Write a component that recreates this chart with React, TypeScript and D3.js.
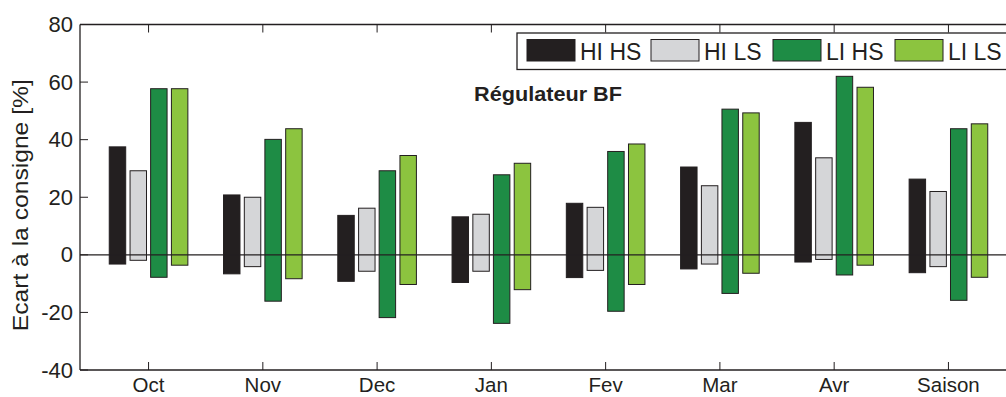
import React from "react";
import * as d3 from "d3";

const months = ["Oct", "Nov", "Dec", "Jan", "Fev", "Mar", "Avr", "Saison"];
const seriesNames = ["HI HS", "HI LS", "LI HS", "LI LS"];
const seriesColors = ["#231f20", "#d5d6d8", "#1e8c45", "#8cc43f"];
// upper and lower limit of each bar, per series, per month
const hiHsMax = [37.5, 20.8, 13.7, 13.2, 17.9, 30.5, 46.0, 26.3];
const hiHsMin = [-3.2, -6.6, -9.2, -9.6, -7.9, -4.9, -2.5, -6.2];
const hiLsMax = [29.2, 20.0, 16.2, 14.1, 16.5, 24.0, 33.7, 22.0];
const hiLsMin = [-1.9, -4.1, -5.7, -5.7, -5.4, -3.2, -1.6, -4.1];
const liHsMax = [57.7, 40.1, 29.2, 27.8, 35.9, 50.6, 62.0, 43.8];
const liHsMin = [-7.8, -16.1, -21.8, -23.8, -19.6, -13.4, -7.0, -15.8];
const liLsMax = [57.7, 43.8, 34.5, 31.8, 38.5, 49.3, 58.2, 45.5];
const liLsMin = [-3.6, -8.3, -10.3, -12.1, -10.3, -6.4, -3.6, -7.8];
const yTicks = [-40, -20, 0, 20, 40, 60, 80];

const width = 1006;
const height = 397;
const marginLeft = 80;
const marginTop = 24.5;
const plotBottom = 370;
const plotRight = 1017;

const App = () => {
  const maxes = [hiHsMax, hiLsMax, liHsMax, liLsMax];
  const mins = [hiHsMin, hiLsMin, liHsMin, liLsMin];

  const x = d3.scaleLinear().domain([0.4, 8.6]).range([marginLeft, plotRight]);
  const y = d3.scaleLinear().domain([-40, 80]).range([plotBottom, marginTop]);
  const unit = x(1) - x(0);
  const barW = 0.144 * unit;
  const offsets = [-0.272, -0.09, 0.09, 0.272];

  const font = "'Liberation Sans', Arial, Helvetica, sans-serif";

  // legend layout
  const legX = 517;
  const legY = 33;
  const legItemX = [527, 651, 773, 895];

  return (
    <svg
      width={width}
      height={height}
      style={{ position: "absolute", left: 0, top: 0, background: "#fff" }}
      fontFamily={font}
    >
      {/* axis box */}
      <line x1={marginLeft} x2={plotRight} y1={marginTop} y2={marginTop} stroke="#231f20" strokeWidth={1.3} />
      <line x1={marginLeft} x2={plotRight} y1={plotBottom} y2={plotBottom} stroke="#231f20" strokeWidth={1.3} />
      <line x1={marginLeft} x2={marginLeft} y1={marginTop} y2={plotBottom} stroke="#231f20" strokeWidth={1.3} />

      {/* y ticks */}
      {yTicks.map((t) => (
        <g key={t}>
          <line x1={marginLeft} x2={marginLeft + 8} y1={y(t)} y2={y(t)} stroke="#231f20" />
          <text x={marginLeft - 7} y={y(t) + 7.5} textAnchor="end" fontSize={22} fill="#231f20">
            {t}
          </text>
        </g>
      ))}

      {/* x ticks */}
      {months.map((m, i) => (
        <g key={m}>
          <line x1={x(i + 1)} x2={x(i + 1)} y1={plotBottom} y2={plotBottom - 8} stroke="#231f20" />
          <line x1={x(i + 1)} x2={x(i + 1)} y1={marginTop} y2={marginTop + 8} stroke="#231f20" />
          <text x={x(i + 1)} y={392} textAnchor="middle" fontSize={20.5} fill="#231f20">
            {m}
          </text>
        </g>
      ))}

      {/* bars */}
      {maxes.map((ser, s) =>
        ser.map((v, i) => (
          <rect
            key={`${s}-${i}`}
            x={x(i + 1 + offsets[s]) - barW / 2}
            y={y(v)}
            width={barW}
            height={y(mins[s][i]) - y(v)}
            fill={seriesColors[s]}
            stroke="#231f20"
            strokeWidth={1}
          />
        ))
      )}

      {/* zero line */}
      <line x1={marginLeft} x2={plotRight} y1={y(0)} y2={y(0)} stroke="#231f20" strokeWidth={1.2} />

      {/* title */}
      <text
        x={548}
        y={101}
        textAnchor="middle"
        fontSize={20}
        fontWeight="bold"
        fill="#231f20"
        textLength={148}
        lengthAdjust="spacingAndGlyphs"
      >
        Régulateur BF
      </text>

      {/* legend */}
      <rect x={legX} y={legY} width={500} height={36.5} fill="#fff" stroke="#231f20" strokeWidth={1.3} />
      {seriesNames.map((n, s) => (
        <g key={n}>
          <rect
            x={legItemX[s]}
            y={39.5}
            width={48}
            height={21.5}
            fill={seriesColors[s]}
            stroke="#231f20"
            strokeWidth={1}
          />
          <text x={legItemX[s] + 53} y={59.5} fontSize={23} fill="#231f20">
            {n}
          </text>
        </g>
      ))}

      {/* y label */}
      <text
        transform={`translate(28, ${(marginTop + plotBottom) / 2 + 8}) rotate(-90)`}
        textAnchor="middle"
        fontSize={22}
        fill="#231f20"
        textLength={252}
        lengthAdjust="spacingAndGlyphs"
      >
        Ecart à la consigne [%]
      </text>
    </svg>
  );
};

export default App;
